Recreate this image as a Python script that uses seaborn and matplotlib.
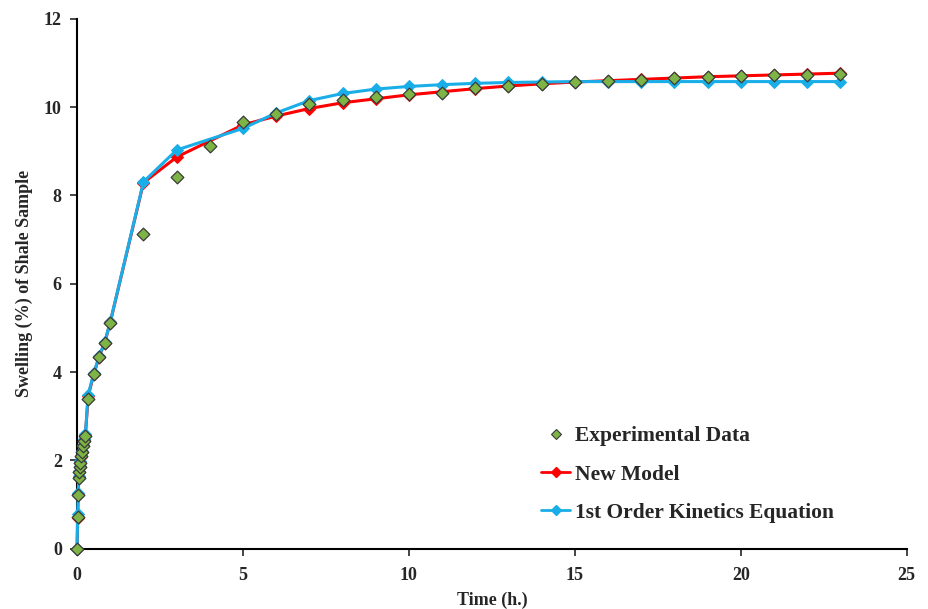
import matplotlib
matplotlib.use("Agg")
import matplotlib.pyplot as plt
import seaborn as sns
import pandas as pd
from matplotlib.lines import Line2D

# Measured swelling of the shale sample over time
exp_time = [0, 0.0167, 0.033, 0.05, 0.067, 0.083, 0.1, 0.117, 0.133, 0.167, 0.2, 0.25,
            0.333, 0.5, 0.667, 0.833, 1, 2, 3, 4, 5, 6, 7, 8, 9, 10, 11, 12, 13, 14,
            15, 16, 17, 18, 19, 20, 21, 22, 23]
exp_swelling = [0, 0.72, 1.22, 1.60, 1.73, 1.86, 1.94, 2.09, 2.20, 2.32, 2.44, 2.56,
                3.39, 3.96, 4.35, 4.66, 5.11, 7.12, 8.43, 9.13, 9.66, 9.85, 10.07, 10.17,
                10.22, 10.29, 10.33, 10.43, 10.48, 10.53, 10.57, 10.59, 10.62, 10.66,
                10.69, 10.71, 10.72, 10.74, 10.75]

# Times at which the two fitted models are evaluated
model_time = [0, 0.0167, 0.033, 0.05, 0.067, 0.083, 0.1, 0.117, 0.133, 0.167, 0.2, 0.25,
              0.333, 0.5, 0.667, 0.833, 1, 2, 3, 5, 6, 7, 8, 9, 10, 11, 12, 13, 14,
              15, 16, 17, 18, 19, 20, 21, 22, 23]
new_model = [0, 0.70, 1.25, 1.62, 1.74, 1.86, 1.96, 2.08, 2.20, 2.35, 2.47, 2.58,
             3.45, 3.95, 4.35, 4.67, 5.13, 8.29, 8.87, 9.60, 9.80, 9.97, 10.10, 10.19,
             10.28, 10.35, 10.42, 10.48, 10.53, 10.57, 10.60, 10.63, 10.66, 10.69,
             10.71, 10.73, 10.75, 10.77]
first_order = [0, 0.78, 1.27, 1.64, 1.76, 1.88, 1.98, 2.10, 2.22, 2.36, 2.48, 2.60,
               3.49, 3.97, 4.37, 4.68, 5.14, 8.31, 9.03, 9.52, 9.87, 10.15, 10.31, 10.41,
               10.47, 10.51, 10.54, 10.56, 10.57, 10.58, 10.58, 10.58, 10.58, 10.58,
               10.58, 10.58, 10.58, 10.58]

x_ticks = [0, 5, 10, 15, 20, 25]
y_ticks = [0, 2, 4, 6, 8, 10, 12]

sns.set_style("white")
plt.rcParams["font.family"] = ["Liberation Serif", "DejaVu Serif"]
plt.rcParams["font.weight"] = "bold"

exp_df = pd.DataFrame({"t": exp_time, "s": exp_swelling})
mod_df = pd.DataFrame({"t": model_time, "new": new_model, "first": first_order})

green = "#7DB445"
red = "#FF0000"
blue = "#1AAEE8"

fig = plt.figure(figsize=(9.29, 6.09), dpi=100)
ax = fig.add_axes([0.083, 0.099, 0.893, 0.870])

sns.lineplot(data=mod_df, x="t", y="new", ax=ax, color=red, lw=2.2,
             marker="D", markersize=6, markeredgecolor=red, zorder=2)
sns.lineplot(data=mod_df, x="t", y="first", ax=ax, color=blue, lw=2.2,
             marker="D", markersize=6, markeredgecolor=blue, zorder=3)
sns.scatterplot(data=exp_df, x="t", y="s", ax=ax, color=green, marker="D", s=42,
                edgecolor="#3A3A3A", linewidth=0.9, zorder=4)

ax.set_xlim(0, 25)
ax.set_ylim(0, 12)
ax.set_xticks(x_ticks)
ax.set_yticks(y_ticks)
ax.tick_params(axis="both", direction="out", length=5, width=1.2, labelsize=13,
               bottom=True, left=True)
ax.tick_params(axis="x", pad=8)
ax.tick_params(axis="y", pad=6)
for lbl in ax.get_xticklabels() + ax.get_yticklabels():
    lbl.set_fontweight("bold")
for side in ["top", "right"]:
    ax.spines[side].set_visible(False)
for side in ["left", "bottom"]:
    ax.spines[side].set_color("black")
    ax.spines[side].set_linewidth(1.5)
for coll in ax.collections + ax.lines:
    coll.set_clip_on(False)

ax.set_xlabel("Time (h.)", fontsize=13, fontweight="bold", labelpad=6)
ax.set_ylabel("Swelling (%) of Shale Sample", fontsize=13, fontweight="bold", labelpad=8)

handles = [
    Line2D([], [], linestyle="none", marker="D", markersize=5, markerfacecolor=green,
           markeredgecolor="#3A3A3A", markeredgewidth=0.8),
    Line2D([], [], color=red, lw=2, marker="D", markersize=5, markeredgecolor=red),
    Line2D([], [], color=blue, lw=2, marker="D", markersize=5, markeredgecolor=blue),
]
labels = ["Experimental Data", "New Model", "1st Order Kinetics Equation"]
ax.legend(handles, labels, loc="lower left", bbox_to_anchor=(0.536, 0.012),
          frameon=False, handlelength=1.35, handletextpad=0.2, labelspacing=0.85,
          prop={"family": "Liberation Serif", "weight": "bold", "size": 15.5})

fig.savefig("out.png", dpi=100)
